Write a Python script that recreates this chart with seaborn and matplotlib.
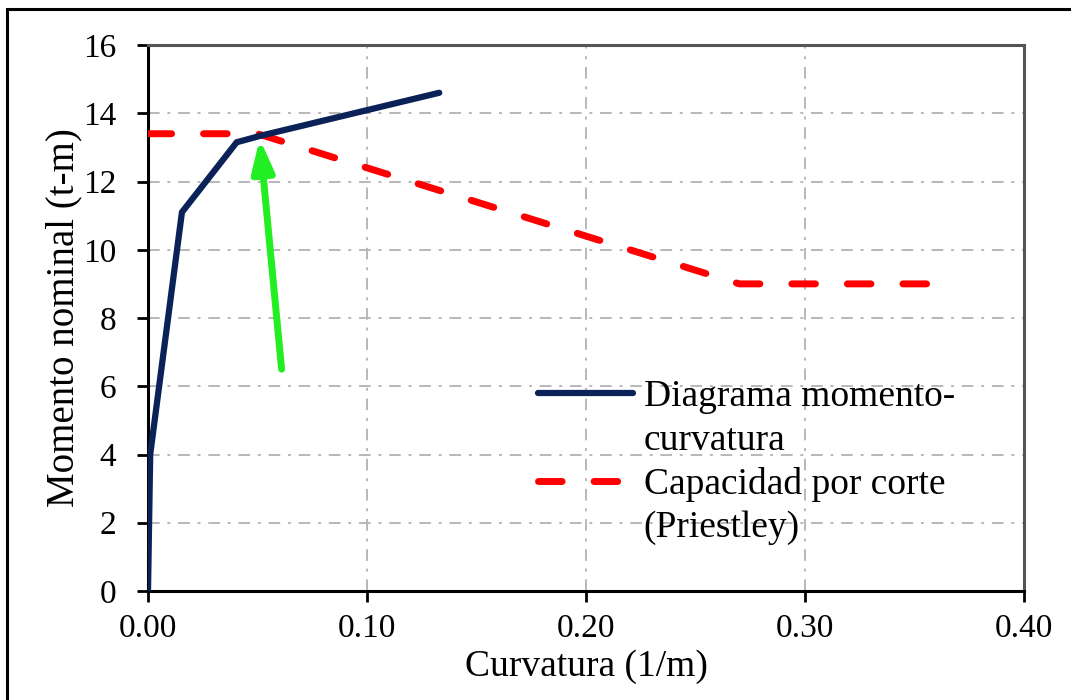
import matplotlib
matplotlib.use("Agg")
import matplotlib.pyplot as plt
import seaborn as sns
import pandas as pd
from matplotlib.patches import Rectangle
from matplotlib.lines import Line2D

# Data
curv_mc = [0.0, 0.001, 0.0155, 0.0405, 0.052, 0.133]
mom_mc = [0.0, 4.0, 11.1, 13.15, 13.35, 14.6]
curv_shear = [0.0, 0.05, 0.27, 0.357]
mom_shear = [13.4, 13.4, 9.0, 9.0]
label_mc = ["Diagrama momento-", "curvatura"]
label_shear = ["Capacidad por corte", "(Priestley)"]
arrow_tail = (0.061, 6.5)
arrow_head = (0.051, 13.25)
xticks = [0.0, 0.1, 0.2, 0.3, 0.4]
xticklabels = ["0.00", "0.10", "0.20", "0.30", "0.40"]
yticks = [0, 2, 4, 6, 8, 10, 12, 14, 16]

sns.set_theme(style="white")
plt.rcParams['font.family'] = ['Liberation Serif', 'DejaVu Serif']
plt.rcParams['text.color'] = 'black'
plt.rcParams['axes.labelcolor'] = 'black'
plt.rcParams['xtick.color'] = 'black'
plt.rcParams['ytick.color'] = 'black'

fig = plt.figure(figsize=(10.71, 7.0), dpi=100)
ax = fig.add_axes([148/1071, 1 - 591/700, (1024-148)/1071, (591-45)/700])

df_mc = pd.DataFrame({"x": curv_mc, "y": mom_mc})
df_sh = pd.DataFrame({"x": curv_shear, "y": mom_shear})

RED = "#ff0000"
BLUE = "#0b2259"
DASH = [3.4, 4.6]

sns.lineplot(data=df_sh, x="x", y="y", ax=ax, color=RED, lw=5,
             sort=False, estimator=None, zorder=3, legend=False)
ax.lines[-1].set_dashes(DASH)
ax.lines[-1].set_dash_capstyle("round")
sns.lineplot(data=df_mc, x="x", y="y", ax=ax, color=BLUE, lw=4.5,
             sort=False, estimator=None, zorder=4, legend=False)
ax.lines[-1].set_solid_joinstyle("miter")

ax.annotate("", xy=arrow_head, xytext=arrow_tail,
            arrowprops=dict(arrowstyle="-|>,head_length=1.6,head_width=0.55",
                            color="#22ee22", lw=5, shrinkA=0, shrinkB=0),
            zorder=5)

ax.set_xlim(0, 0.40)
ax.set_ylim(0, 16)
ax.set_xticks(xticks)
ax.set_xticklabels(xticklabels)
ax.set_yticks(yticks)
ax.grid(True, color="#b8b8b8", lw=1.4, linestyle=(0, (6, 4, 1.5, 4)))
for s in ["left", "bottom"]:
    ax.spines[s].set_color("black")
    ax.spines[s].set_linewidth(2.2)
for s in ["top", "right"]:
    ax.spines[s].set_color("#555555")
    ax.spines[s].set_linewidth(2.2)
ax.tick_params(axis="both", which="major", direction="out", length=8, width=2,
               labelsize=24, color="black", left=True, bottom=True)
ax.tick_params(axis="x", pad=8)
ax.tick_params(axis="y", pad=15)
ax.set_xlabel("Curvatura (1/m)", fontsize=27, labelpad=4)
ax.set_ylabel("Momento nominal (t-m)", fontsize=28, labelpad=0)

h_mc = Line2D([], [], color=BLUE, lw=4.5, solid_capstyle="round")
h_sh = Line2D([], [], color=RED, lw=5, dashes=DASH, dash_capstyle="round")
h_blank = Line2D([], [], color="none", lw=0)
leg = ax.legend([h_mc, h_blank, h_sh, h_blank],
                [label_mc[0], label_mc[1], label_shear[0], label_shear[1]],
                loc="upper left", bbox_to_anchor=(0.445, 0.387), frameon=False,
                fontsize=27, handlelength=2.55, handletextpad=0.27,
                labelspacing=0.24, borderaxespad=0, borderpad=0)

fig.patches.append(Rectangle((7/1071, -0.1), 1.1, 1 - 9/700 + 0.1,
                             transform=fig.transFigure, fill=False,
                             edgecolor="black", lw=2.2, zorder=10))

fig.savefig("out.png", dpi=100)
